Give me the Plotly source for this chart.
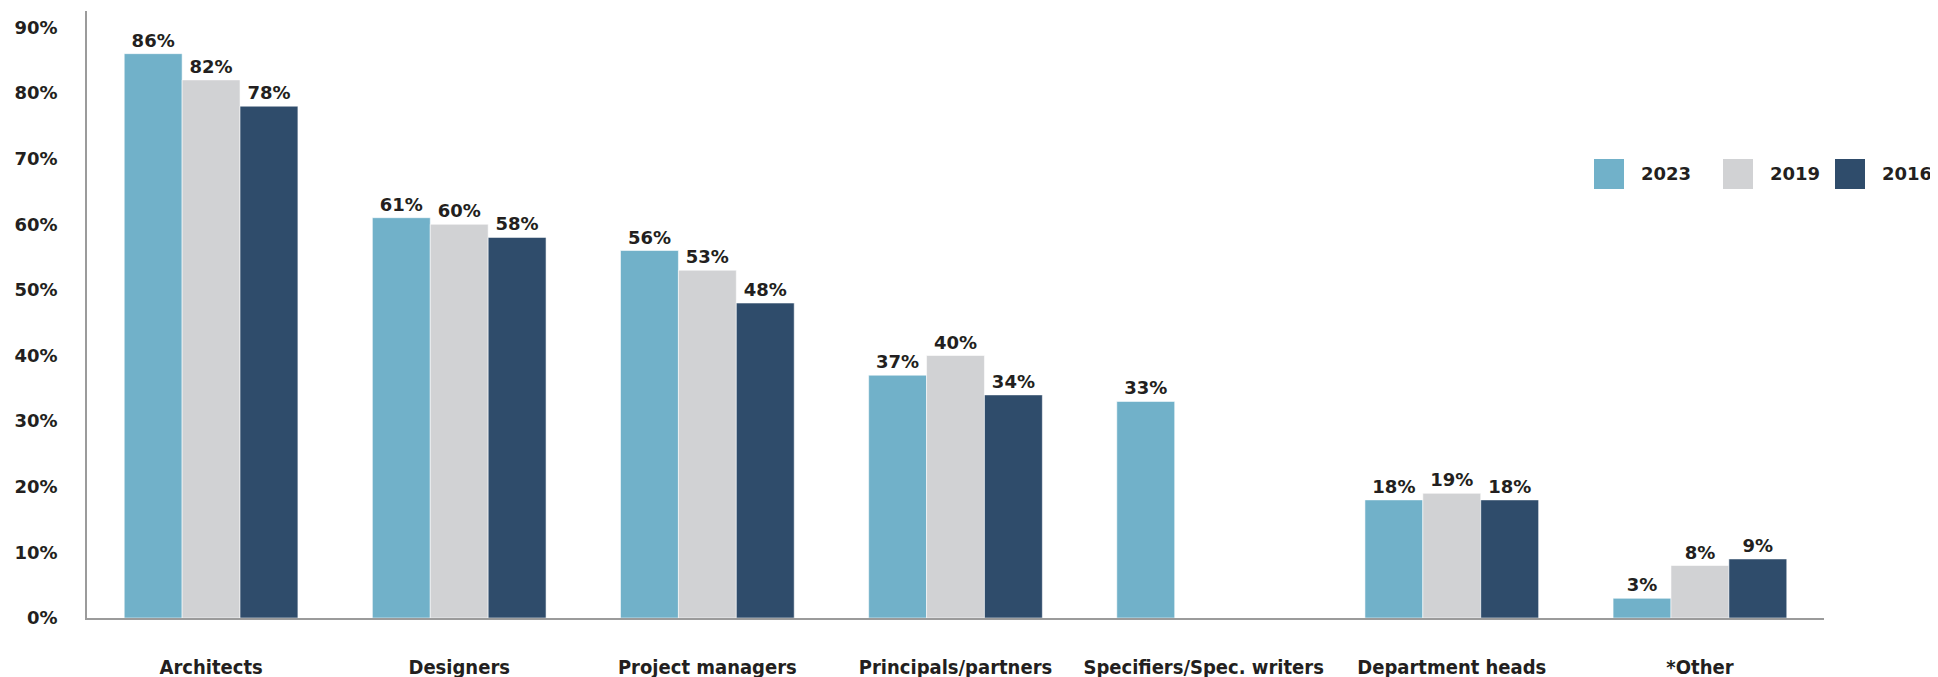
import plotly.graph_objects as go

categories = ["Architects", "Designers", "Project managers", "Principals/partners",
              "Specifiers/Spec. writers", "Department heads", "*Other"]
series_names = ["2023", "2019", "2016"]
values_2023 = [86, 61, 56, 37, 33, 18, 3]
values_2019 = [82, 60, 53, 40, None, 19, 8]
values_2016 = [78, 58, 48, 34, None, 18, 9]
y_ticks = [0, 10, 20, 30, 40, 50, 60, 70, 80, 90]
y_tick_labels = [f"{v}%" for v in y_ticks]

colors = ["#71B1C9", "#D1D2D4", "#2F4C6B"]
text_color = "#231F20"
num_font = dict(family="DejaVu Sans, Verdana, sans-serif", size=18, color=text_color, weight="bold")
cat_font = dict(family="DejaVu Sans Condensed, Liberation Sans Narrow, Roboto, sans-serif",
                size=20, color=text_color, weight="bold")

# page body adds an 8px offset; figure sized to fit the window
OFF = 8
W, H = 1938 - OFF, 677 - OFF
ML, MR, MT, MB = 87 - OFF, 114, 11 - OFF, 59

fig = go.Figure()
for name, vals, col in zip(series_names, [values_2023, values_2019, values_2016], colors):
    fig.add_trace(go.Bar(
        x=categories, y=vals, name=name,
        marker=dict(color=col, line=dict(color="rgba(255,255,255,0.55)", width=1)),
        text=[f"{v}%" if v is not None else "" for v in vals],
        textposition="outside", textfont=num_font, cliponaxis=False,
        showlegend=False,
    ))

# custom legend (large square swatches), positions given in window pixels
pw, ph = W - ML - MR, H - MT - MB
def px_x(x):
    return (x - OFF - ML) / pw
def px_y(y):
    return (H - MB - (y - OFF)) / ph

swatch_left = [1594, 1723, 1835]
for name, col, sx in zip(series_names, colors, swatch_left):
    fig.add_shape(type="rect", xref="paper", yref="paper",
                  x0=px_x(sx), x1=px_x(sx + 30), y0=px_y(189), y1=px_y(159),
                  fillcolor=col, line=dict(width=0))
    fig.add_annotation(xref="paper", yref="paper", x=px_x(sx + 46), y=px_y(174),
                       text=name, showarrow=False, xanchor="left", yanchor="middle",
                       font=num_font, borderpad=0)

fig.update_layout(
    width=W, height=H,
    margin=dict(l=ML, r=MR, t=MT, b=MB, autoexpand=False),
    paper_bgcolor="white", plot_bgcolor="white",
    barmode="group", bargap=0.30, bargroupgap=0,
)
fig.update_xaxes(showline=True, linecolor="#9B9B9B", linewidth=1.5, showgrid=False,
                 ticks="", tickfont=cat_font, ticklabelstandoff=30, automargin=False)
fig.update_yaxes(range=[0, 92.5], showline=True, linecolor="#9B9B9B", linewidth=1.5,
                 showgrid=False, zeroline=False, ticks="",
                 tickvals=y_ticks, ticktext=y_tick_labels, tickfont=num_font,
                 ticklabelstandoff=24, automargin=False)

fig.write_html("out.html")
